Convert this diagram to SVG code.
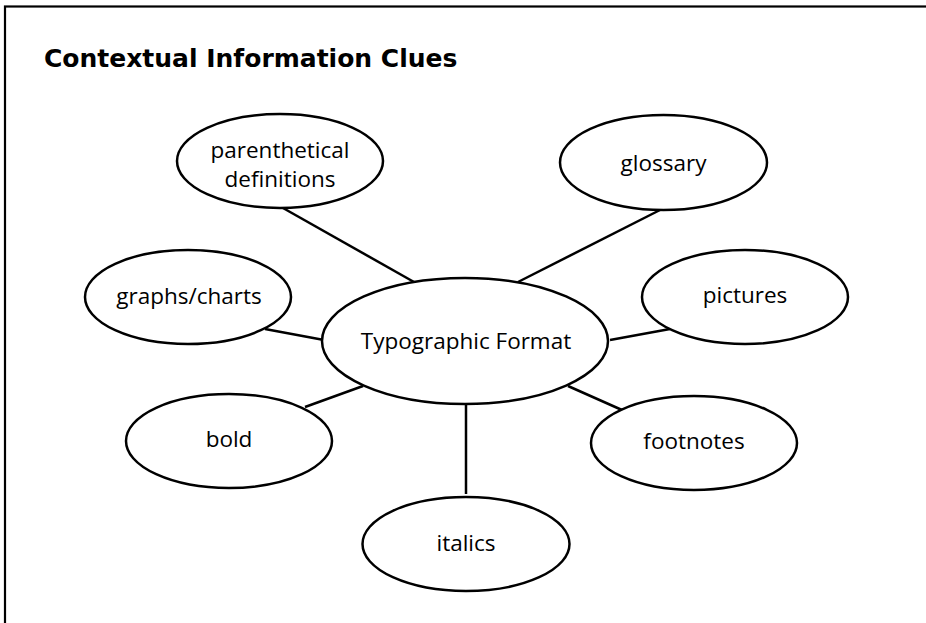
<svg xmlns="http://www.w3.org/2000/svg" width="926" height="623" viewBox="0 0 926 623">
  <style>
    .node ellipse { fill: #ffffff; stroke: #000000; stroke-width: 2.5; }
    .node text { font-family: "Open Sans", "Liberation Sans", sans-serif; font-size: 22.5px; fill: #000000; text-anchor: middle; }
    #connectors line { stroke: #000000; stroke-width: 2.5; }
    .title { font-family: "DejaVu Sans", "Liberation Sans", sans-serif; font-size: 25px; font-weight: bold; fill: #000000; }
  </style>
  <rect x="0" y="0" width="926" height="623" fill="#ffffff"/>
  <!-- outer frame (right and bottom edges run off the page) -->
  <rect x="5" y="6.5" width="1000" height="1000" fill="none" stroke="#000000" stroke-width="2.2"/>
  <text class="title" x="44" y="67">Contextual Information Clues</text>

  <g id="connectors">
    <line x1="283" y1="208" x2="414" y2="282"/>
    <line x1="660" y1="210" x2="518" y2="282"/>
    <line x1="670" y1="329" x2="610" y2="340"/>
    <line x1="265" y1="329" x2="324" y2="340"/>
    <line x1="305" y1="407" x2="363" y2="386"/>
    <line x1="568" y1="386" x2="622" y2="410"/>
    <line x1="466" y1="404" x2="466" y2="494"/>
  </g>

  <g id="center" class="node">
    <ellipse cx="465" cy="341" rx="143" ry="63"/>
    <text x="466" y="349">Typographic Format</text>
  </g>
  <g id="parenthetical" class="node">
    <ellipse cx="280" cy="161" rx="103" ry="47"/>
    <text x="280" y="158">parenthetical</text>
    <text x="280" y="187">definitions</text>
  </g>
  <g id="glossary" class="node">
    <ellipse cx="663.5" cy="162.5" rx="103.5" ry="47.5"/>
    <text x="663.5" y="171">glossary</text>
  </g>
  <g id="pictures" class="node">
    <ellipse cx="745" cy="297" rx="103" ry="47"/>
    <text x="745" y="303">pictures</text>
  </g>
  <g id="graphs" class="node">
    <ellipse cx="188" cy="297" rx="103" ry="47"/>
    <text x="189" y="304">graphs/charts</text>
  </g>
  <g id="bold" class="node">
    <ellipse cx="229" cy="441" rx="103" ry="47"/>
    <text x="229" y="447">bold</text>
  </g>
  <g id="italics" class="node">
    <ellipse cx="466" cy="544" rx="103.5" ry="47"/>
    <text x="466" y="551">italics</text>
  </g>
  <g id="footnotes" class="node">
    <ellipse cx="694" cy="443" rx="103" ry="47"/>
    <text x="694" y="449">footnotes</text>
  </g>
</svg>
